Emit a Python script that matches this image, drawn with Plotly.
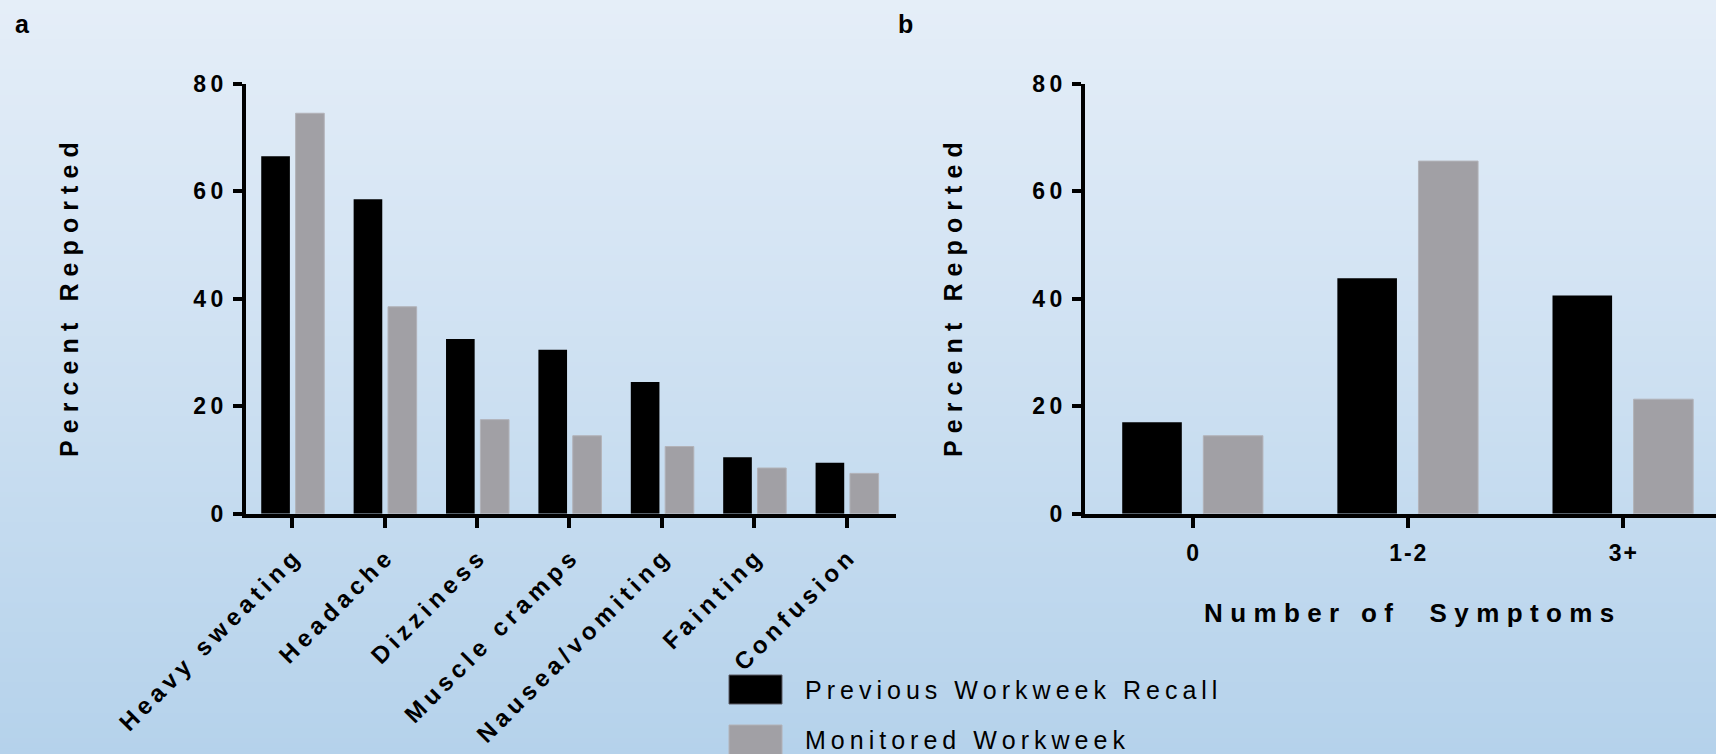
import plotly.graph_objects as go

# ---- data -------------------------------------------------------------
symptoms = ["Heavy sweating", "Headache", "Dizziness", "Muscle cramps",
            "Nausea/vomiting", "Fainting", "Confusion"]
recall_by_symptom = [66.5, 58.5, 32.5, 30.5, 24.5, 10.5, 9.5]
monitored_by_symptom = [74.5, 38.5, 17.5, 14.5, 12.5, 8.5, 7.5]

symptom_counts = ["0", "1-2", "3+"]
recall_by_count = [17.0, 43.8, 40.6]
monitored_by_count = [14.5, 65.6, 21.3]

y_ticks = [0, 20, 40, 60, 80]
series_names = ["Previous Workweek Recall", "Monitored Workweek"]

# ---- styling ----------------------------------------------------------
W, H = 1716, 754
FONT = "Liberation Sans, Arial, sans-serif"
BLACK = "#000000"
GREY = "rgb(161,160,165)"
GREY_EDGE = "rgb(178,178,184)"
TOP_BG = (229, 238, 248)
BOTTOM_BG = (181, 210, 235)


def spaced(text, sep="\u2009"):
    """Letter-spaced text, as used throughout the figure."""
    return sep.join("\u00a0" if c == " " else c for c in text)


def px_x(x):
    return x / W


def px_y(y):
    return 1 - y / H


fig = go.Figure()

# panel a: by symptom
fig.add_trace(go.Bar(x=symptoms, y=recall_by_symptom, name=series_names[0],
                     marker=dict(color=BLACK, line=dict(width=0)),
                     width=0.31, offset=-0.335, xaxis="x", yaxis="y",
                     showlegend=False))
fig.add_trace(go.Bar(x=symptoms, y=monitored_by_symptom, name=series_names[1],
                     marker=dict(color=GREY, line=dict(color=GREY_EDGE, width=1)),
                     width=0.31, offset=0.037, xaxis="x", yaxis="y",
                     showlegend=False))

# panel b: by number of symptoms
fig.add_trace(go.Bar(x=symptom_counts, y=recall_by_count, name=series_names[0],
                     marker=dict(color=BLACK, line=dict(width=0)),
                     width=0.277, offset=-0.327, xaxis="x2", yaxis="y2",
                     showlegend=False))
fig.add_trace(go.Bar(x=symptom_counts, y=monitored_by_count, name=series_names[1],
                     marker=dict(color=GREY, line=dict(color=GREY_EDGE, width=1)),
                     width=0.277, offset=0.05, xaxis="x2", yaxis="y2",
                     showlegend=False))

axis_common = dict(showline=True, linecolor=BLACK, linewidth=4,
                   ticks="outside", tickcolor=BLACK, tickwidth=4,
                   showgrid=False, zeroline=False, fixedrange=True,
                   automargin=False)

y_dom = [px_y(513.7), px_y(83.7)]
y_common = dict(axis_common, range=[0, 80], tickvals=y_ticks,
                ticktext=[spaced(str(v)) for v in y_ticks], ticklen=9,
                tickfont=dict(family=FONT, size=23, color=BLACK, weight="bold"),
                domain=y_dom, ticklabelstandoff=5)

fig.update_layout(
    width=W, height=H,
    margin=dict(l=0, r=0, t=0, b=0, pad=0, autoexpand=False),
    paper_bgcolor="rgb(205,224,242)",
    plot_bgcolor="rgba(0,0,0,0)",
    barmode="overlay",
    font=dict(family=FONT, color=BLACK),
    xaxis=dict(axis_common, domain=[px_x(246), px_x(895.5)], range=[-0.5, 6.53],
               type="category", categoryorder="array", categoryarray=symptoms,
               tickvals=symptoms, ticktext=[spaced(s) for s in symptoms],
               tickangle=-45, ticklen=10, ticklabelstandoff=8,
               tickfont=dict(family=FONT, size=24, color=BLACK, weight="bold"),
               anchor="y"),
    yaxis=dict(y_common, anchor="x"),
    xaxis2=dict(axis_common, domain=[px_x(1085), 1.0], range=[-0.5, 2.433],
                type="category", categoryorder="array", categoryarray=symptom_counts,
                tickvals=symptom_counts,
                ticktext=[spaced(s, "\u200a") for s in symptom_counts],
                ticklen=10, ticklabelstandoff=6,
                tickfont=dict(family=FONT, size=23, color=BLACK, weight="bold"),
                anchor="y2"),
    yaxis2=dict(y_common, anchor="x2"),
)

# background: vertical light-to-blue gradient drawn as thin bands
bands = 150
shapes = []
for i in range(bands):
    t = i / (bands - 1)
    c = tuple(round(a + (b - a) * t) for a, b in zip(TOP_BG, BOTTOM_BG))
    shapes.append(dict(type="rect", xref="paper", yref="paper", layer="below",
                       x0=0, x1=1, y0=1 - (i + 1) / bands, y1=1 - i / bands + 0.001,
                       fillcolor=f"rgb{c}", line=dict(width=0)))

# legend swatches
shapes.append(dict(type="rect", xref="paper", yref="paper",
                   x0=px_x(729), x1=px_x(782), y0=px_y(704), y1=px_y(675),
                   fillcolor=BLACK, line=dict(color="rgb(90,90,100)", width=1)))
shapes.append(dict(type="rect", xref="paper", yref="paper",
                   x0=px_x(729), x1=px_x(782), y0=px_y(756), y1=px_y(725),
                   fillcolor=GREY, line=dict(color=GREY_EDGE, width=1)))
fig.update_layout(shapes=shapes)

title_sep = "\u2009\u200a"
annotations = [
    # panel letters
    dict(text="<b>a</b>", x=px_x(13), y=px_y(8), xanchor="left", yanchor="top",
         font=dict(size=25)),
    dict(text="<b>b</b>", x=px_x(896), y=px_y(8), xanchor="left", yanchor="top",
         font=dict(size=25)),
    # y-axis titles
    dict(text=spaced("Percent Reported", title_sep), x=px_x(69), y=px_y(300),
         textangle=-90, xanchor="center", yanchor="middle",
         font=dict(size=25, weight="bold")),
    dict(text=spaced("Percent Reported", title_sep), x=px_x(953), y=px_y(300),
         textangle=-90, xanchor="center", yanchor="middle",
         font=dict(size=25, weight="bold")),
    # x-axis title of panel b
    dict(text=spaced("Number of  Symptoms", title_sep), x=px_x(1409), y=px_y(613),
         xanchor="center", yanchor="middle",
         font=dict(size=26, weight="bold")),
    # legend labels
    dict(text=spaced(series_names[0]), x=px_x(803), y=px_y(690),
         xanchor="left", yanchor="middle", font=dict(size=25)),
    dict(text=spaced(series_names[1]), x=px_x(803), y=px_y(740),
         xanchor="left", yanchor="middle", font=dict(size=25)),
]
for a in annotations:
    a.update(xref="paper", yref="paper", showarrow=False)
    a["font"] = dict(dict(family=FONT, color=BLACK), **a["font"])
fig.update_layout(annotations=annotations)

fig.write_html("out.html", config={"displayModeBar": False})
